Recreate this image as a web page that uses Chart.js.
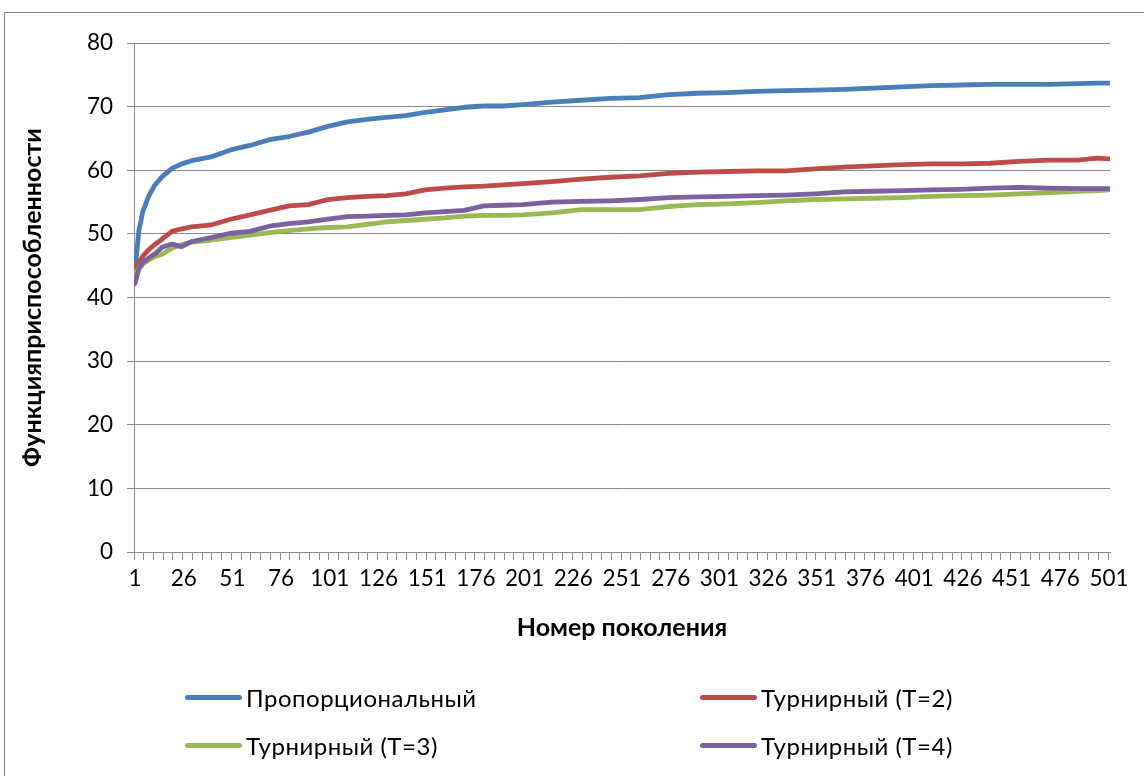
<!DOCTYPE html>
<html>
<head>
<meta charset="utf-8">
<script src="https://cdn.jsdelivr.net/npm/chart.js@4/dist/chart.umd.min.js"></script>
<style>
  html, body { margin: 0; padding: 0; background: #fff; }
  #wrap { position: relative; width: 1144px; height: 776px; overflow: hidden; font-family: Lato, "Open Sans", sans-serif; }
  #frame { position: absolute; left: 4px; top: 12px; width: 1160px; height: 800px; border: 1px solid #868686; box-sizing: border-box; }
  canvas { position: absolute; left: 0; top: 0; }
  .lg { position: absolute; display: flex; align-items: center; font-size: 24px; letter-spacing: 0.5px; color: #000; white-space: nowrap; }
  .lg span.sw { display: inline-block; width: 57px; height: 5px; border-radius: 3px; margin-right: 4px; }
</style>
</head>
<body>
<div id="wrap">
  <div id="frame"></div>
  <canvas id="c" width="1144" height="776"></canvas>
</div>
<script>
// ---- data ----
const generations = [1, 3, 5, 8, 11, 15, 20, 25, 30, 40, 50, 60, 70, 80, 90, 100, 110, 120, 130, 140, 150, 160, 170, 180, 190, 200, 215, 230, 245, 260, 275, 290, 305, 320, 335, 350, 365, 380, 395, 410, 425, 440, 455, 470, 485, 495, 501];

const proportional = [44.3, 50.5, 53.5, 55.9, 57.6, 59.0, 60.3, 61.0, 61.5, 62.1, 63.2, 63.9, 64.8, 65.3, 66.0, 66.9, 67.6, 68.0, 68.3, 68.6, 69.1, 69.5, 69.9, 70.1, 70.1, 70.3, 70.7, 71.0, 71.3, 71.4, 71.9, 72.1, 72.2, 72.4, 72.5, 72.6, 72.7, 72.9, 73.1, 73.3, 73.4, 73.5, 73.5, 73.5, 73.6, 73.7, 73.7];

const tournament2 = [44.3, 45.5, 46.5, 47.5, 48.3, 49.2, 50.4, 50.8, 51.1, 51.4, 52.3, 53.0, 53.7, 54.4, 54.6, 55.4, 55.7, 55.9, 56.0, 56.3, 56.9, 57.2, 57.4, 57.5, 57.7, 57.9, 58.2, 58.6, 58.9, 59.1, 59.5, 59.7, 59.8, 59.9, 59.9, 60.2, 60.5, 60.7, 60.9, 61.0, 61.0, 61.1, 61.4, 61.6, 61.6, 61.9, 61.8];

const tournament3 = [43.8, 44.6, 45.2, 45.9, 46.4, 46.8, 47.8, 48.3, 48.7, 49.0, 49.4, 49.8, 50.2, 50.5, 50.8, 51.0, 51.1, 51.5, 51.9, 52.1, 52.3, 52.5, 52.8, 52.9, 52.9, 53.0, 53.3, 53.8, 53.8, 53.8, 54.3, 54.6, 54.7, 54.9, 55.2, 55.4, 55.5, 55.6, 55.7, 55.9, 56.0, 56.1, 56.3, 56.5, 56.7, 56.8, 56.9];

const tournament4 = [42.2, 44.5, 45.5, 46.2, 46.8, 47.9, 48.4, 48.0, 48.8, 49.4, 50.1, 50.4, 51.2, 51.6, 51.9, 52.3, 52.7, 52.8, 52.9, 53.0, 53.3, 53.5, 53.7, 54.4, 54.5, 54.6, 55.0, 55.1, 55.2, 55.4, 55.7, 55.8, 55.9, 56.0, 56.1, 56.3, 56.6, 56.7, 56.8, 56.9, 57.0, 57.2, 57.3, 57.2, 57.1, 57.1, 57.1];

const seriesNames = ["Пропорциональный", "Турнирный (T=2)", "Турнирный (T=3)", "Турнирный (T=4)"];
const seriesColors = ["#4A7EBB", "#BE4B48", "#98B954", "#7D60A0"];
const xTickLabels = [1, 26, 51, 76, 101, 126, 151, 176, 201, 226, 251, 276, 301, 326, 351, 376, 401, 426, 451, 476, 501];
const yTickValues = [0, 10, 20, 30, 40, 50, 60, 70, 80];
const xTitle = "Номер поколения";
const yTitle = "Функцияприспособленности";
const categoryCount = 501;

// ---- build chart ----
const seriesValues = [proportional, tournament2, tournament3, tournament4];
const datasets = seriesValues.map((vals, i) => ({
  label: seriesNames[i],
  data: generations.map((g, j) => ({ x: g, y: vals[j] })),
  borderColor: seriesColors[i],
  backgroundColor: seriesColors[i],
  borderWidth: 4.8,
  pointRadius: 0,
  tension: 0,
  borderCapStyle: 'round',
  borderJoinStyle: 'round',
  order: seriesValues.length - 1 - i
}));

// tick marks between categories every 5, labels every 25 categories
const minorBoundaries = [];
for (let b = 0; b <= categoryCount - 1; b += 5) minorBoundaries.push(b + 0.5);

const gridGray = '#8a8a8a';
const family = 'Lato, "Open Sans", sans-serif';
const tickFont = { family, size: 22.5 };
const titleFont = { family, size: 25, weight: 'bold' };

new Chart(document.getElementById('c'), {
  type: 'line',
  data: { datasets },
  options: {
    responsive: false,
    animation: false,
    layout: { padding: { left: 0, top: 43, right: 34, bottom: 124 } },
    plugins: { legend: { display: false }, tooltip: { enabled: false } },
    scales: {
      x: {
        type: 'linear',
        min: 0.5,
        max: categoryCount + 0.5,
        afterBuildTicks: s => { s.ticks = minorBoundaries.map(v => ({ value: v })); },
        afterFit: s => { s.height = 100; },
        ticks: {
          autoSkip: false,
          maxRotation: 0,
          padding: 5,
          labelOffset: 1,
          color: '#000',
          font: tickFont,
          callback: v => {
            const lab = v + 0.5;
            return xTickLabels.includes(lab) ? String(lab) : '';
          }
        },
        grid: { drawOnChartArea: false, drawTicks: true, tickLength: 8, color: gridGray, lineWidth: 1 },
        border: { display: true, color: gridGray, width: 1 },
        title: { display: true, text: xTitle, color: '#000', font: titleFont, padding: { top: 0, bottom: 9 } }
      },
      y: {
        min: 0,
        max: 80,
        afterBuildTicks: s => { s.ticks = yTickValues.map(v => ({ value: v })); },
        afterFit: s => { s.width = 134; },
        ticks: { color: '#000', font: tickFont, padding: 14 },
        grid: { color: gridGray, lineWidth: 1, drawTicks: true, tickLength: 7 },
        border: { display: true, color: gridGray, width: 1 },
        title: { display: true, text: yTitle, color: '#000', font: titleFont, padding: { top: 18, bottom: 0 } }
      }
    }
  }
});

// legend (HTML) built from the series
const legendPos = [
  { left: 185, top: 697 }, { left: 700, top: 697 },
  { left: 185, top: 745 }, { left: 700, top: 745 }
];
const wrap = document.getElementById('wrap');
seriesNames.forEach((name, i) => {
  const d = document.createElement('div');
  d.className = 'lg';
  d.style.left = legendPos[i].left + 'px';
  d.style.top = (legendPos[i].top - 15) + 'px';
  d.style.height = '30px';
  const sw = document.createElement('span');
  sw.className = 'sw';
  sw.style.background = seriesColors[i];
  const t = document.createElement('span');
  t.textContent = name;
  d.appendChild(sw);
  d.appendChild(t);
  wrap.appendChild(d);
});
</script>
</body>
</html>
